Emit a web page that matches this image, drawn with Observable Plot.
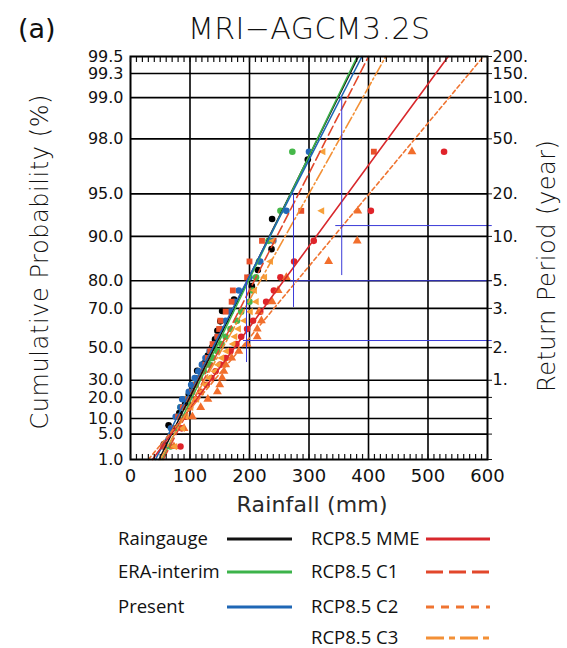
<!DOCTYPE html>
<html>
<head>
<meta charset="utf-8">
<script src="https://cdn.jsdelivr.net/npm/d3@7"></script>
<script src="https://cdn.jsdelivr.net/npm/@observablehq/plot@0.6"></script>
<style>
  body { margin: 0; background: #fff; }
  #wrap { position: relative; width: 567px; height: 648px; overflow: hidden; background: #fff; }
  #chart { position: absolute; left: 0; top: 46px; }
  #overlay { position: absolute; left: 0; top: 0; pointer-events: none; }
</style>
</head>
<body>
<div id="wrap">
  <div id="chart"></div>
  <svg id="overlay" width="567" height="648" font-family="DejaVu Sans" fill="#111">
    <text x="18" y="38" font-size="27" fill="#111">(a)</text>
    <text x="309" y="39" font-size="30" font-weight="200" fill="#111" text-anchor="middle" textLength="242" lengthAdjust="spacing">MRI−AGCM3.2S</text>
    <text transform="translate(48,262) rotate(-90)" font-size="24" font-weight="200" fill="#111" text-anchor="middle" textLength="335" lengthAdjust="spacing">Cumulative Probability (%)</text>
    <text transform="translate(555,266) rotate(-90)" font-size="24" font-weight="200" fill="#111" text-anchor="middle" textLength="252" lengthAdjust="spacing">Return Period (year)</text>
    <text x="312" y="512" font-size="22" font-weight="normal" fill="#2a2a2a" text-anchor="middle" textLength="151" lengthAdjust="spacing">Rainfall (mm)</text>
    <g id="legend" font-family="Open Sans" font-size="18.5"></g>
  </svg>
</div>
<script>
// ---------- data ----------
const gum = p => -Math.log(-Math.log(p / 100));

// left axis: cumulative probability (%) ; right axis: return period (year)
const probTicks  = [1.0, 5.0, 10.0, 20.0, 30.0, 50.0, 70.0, 80.0, 90.0, 95.0, 98.0, 99.0, 99.333, 99.5];
const probLabels = ["1.0","5.0","10.0","20.0","30.0","50.0","70.0","80.0","90.0","95.0","98.0","99.0","99.3","99.5"];
const returnLabels = ["","","","","1.","2.","3.","5.","10.","20.","50.","100.","150.","200."];
const xTicks = [0, 100, 200, 300, 400, 500, 600];
const xGrid = [100, 200, 300, 400, 500];

// plotting probabilities (%) of ranked annual maxima
const pModel = [97.52, 93.39, 89.26, 85.12, 80.99, 76.86, 72.73, 68.60, 64.46, 60.33, 56.20, 52.07,
                47.93, 43.80, 39.67, 35.54, 31.40, 27.27, 23.14, 19.01, 14.88, 10.74, 6.61, 2.48];
const pGauge = [97.17, 92.45, 87.74, 83.02, 78.30, 73.58, 68.87, 64.15, 59.43, 54.72, 50.00,
                45.28, 40.57, 35.85, 31.13, 26.42, 21.70, 16.98, 12.26, 7.55, 2.83];

// rainfall (mm) of each ranked sample
const rainX    = [298, 238, 237, 214, 204, 174, 154, 151, 146, 142, 137, 130, 124, 112, 110, 104, 98, 92, 82, 64, 56];
const eraX     = [272, 252, 232, 216, 211, 205, 200, 186, 179, 168, 160, 153, 146, 138, 133, 123, 115, 107, 103, 96, 84, 80, 72, 67];
const presentX = [300, 262, 240, 218, 200, 182, 175, 168, 160, 152, 146, 140, 133, 126, 120, 114, 108, 102, 98, 87, 84, 76, 68, 56];
const mmeX     = [527, 404, 308, 275, 252, 241, 228, 218, 206, 196, 186, 178, 168, 160, 151, 143, 136, 128, 118, 110, 100, 92, 86, 84];
const c1X      = [409, 287, 221, 200, 196, 172, 170, 160, 151, 149, 146, 138, 134, 130, 126, 122, 117, 110, 104, 97, 88, 80, 73, 55];
const c2X      = [473, 382, 381, 333, 262, 248, 238, 216, 220, 213, 213, 196, 182, 170, 160, 157, 154, 150, 146, 130, 118, 104, 90, 73];
const c3X      = [322, 320, 238, 234, 224, 207, 210, 200, 190, 180, 174, 171, 160, 152, 146, 140, 131, 125, 118, 110, 100, 92, 86, 73];

// fitted Gumbel lines: rainfall (mm) at 1.0 % and at 99.5 %
const fitP       = [1.0, 99.5];
const rainFit    = [48, 383];
const eraFit     = [53, 381];
const presentFit = [42, 389];
const mmeFit     = [37, 534];
const c1Fit      = [55, 400];
const c2Fit      = [30, 593];
const c3Fit      = [50, 429];

// blue guide lines (return level ranges)
const ciX     = [195, 274, 355];
const ciPLow  = [41.0, 70.4, 81.5];
const ciPHigh = [80.0, 95.0, 99.0];
const rlP      = [54.1, 80.0, 91.6];
const rlXStart = [190, 269, 345];
const rlXEnd   = [608, 608, 608];

// ---------- styles ----------
const triLeft = {
  draw(ctx, size) {
    const h = Math.sqrt(size) * 0.62;
    ctx.moveTo(-h, 0); ctx.lineTo(h * 0.9, -h); ctx.lineTo(h * 0.9, h); ctx.closePath();
  }
};
const series = [
  {name: "Raingauge",    x: rainX,    p: pGauge, fit: rainFit,    line: "#111111", dot: "#000000", symbol: "circle",   dash: null},
  {name: "ERA-interim",  x: eraX,     p: pModel, fit: eraFit,     line: "#3cb34a", dot: "#45b849", symbol: "circle",   dash: null},
  {name: "Present",      x: presentX, p: pModel, fit: presentFit, line: "#1f67b5", dot: "#2368b8", symbol: "circle",   dash: null},
  {name: "RCP8.5 MME",   x: mmeX,     p: pModel, fit: mmeFit,     line: "#d8282c", dot: "#e0232a", symbol: "circle",   dash: null},
  {name: "RCP8.5 C1",    x: c1X,      p: pModel, fit: c1Fit,      line: "#e2472b", dot: "#e8502a", symbol: "square",   dash: "10,4"},
  {name: "RCP8.5 C2",    x: c2X,      p: pModel, fit: c2Fit,      line: "#ef7431", dot: "#f26e2c", symbol: "triangle", dash: "4,3"},
  {name: "RCP8.5 C3",    x: c3X,      p: pModel, fit: c3Fit,      line: "#f39036", dot: "#f7a03a", symbol: triLeft,    dash: "12,3,2,3"}
];

const tickRV = probTicks.map(gum);
const leftMap = new Map(tickRV.map((v, i) => [v, probLabels[i]]));
const rightMap = new Map(tickRV.map((v, i) => [v, returnLabels[i]]));
const yDomain = [gum(1.0), gum(99.5)];
const innerRV = tickRV.slice(1, -1);
const minorTicks = d3.range(0, 601, 10);

const marks = [
  Plot.gridX(xGrid, {stroke: "#000", strokeOpacity: 1, strokeWidth: 1.6}),
  Plot.gridY(innerRV, {stroke: "#000", strokeOpacity: 1, strokeWidth: 1.6})
];
for (const s of series) {
  const pts = s.x.map((x, i) => ({x, y: gum(s.p[i])}));
  marks.push(Plot.dot(pts, {x: "x", y: "y", symbol: s.symbol, r: 3.3, fill: s.dot, stroke: "none"}));
}
for (const s of series) {
  const ln = s.fit.map((x, i) => ({x, y: gum(fitP[i])}));
  marks.push(Plot.line(ln, {x: "x", y: "y", stroke: s.line, strokeWidth: 1.6, strokeDasharray: s.dash}));
}
const ciV = ciX.map((x, i) => ({x, y1: gum(ciPLow[i]), y2: gum(ciPHigh[i])}));
const ciH = rlP.map((p, i) => ({x1: rlXStart[i], x2: rlXEnd[i], y: gum(p)}));
marks.push(Plot.ruleX(ciV, {x: "x", y1: "y1", y2: "y2", stroke: "#3a3ad8", strokeWidth: 1}));
marks.push(Plot.ruleY(ciH, {y: "y", x1: "x1", x2: "x2", stroke: "#3a3ad8", strokeWidth: 1}));
marks.push(Plot.frame({stroke: "#000", strokeWidth: 2}));
// minor inward ticks on top and bottom
marks.push(Plot.axisX(minorTicks, {anchor: "bottom", tickSize: 5, dy: -5, tickFormat: () => "", label: null, strokeWidth: 1.2}));
marks.push(Plot.axisX(minorTicks, {anchor: "top", tickSize: 5, dy: 5, tickFormat: () => "", label: null, strokeWidth: 1.2}));
// labelled axes
marks.push(Plot.axisX(xTicks, {anchor: "bottom", tickSize: 0, tickPadding: 10, fontSize: 18, label: null}));
marks.push(Plot.axisY(tickRV, {anchor: "left", tickSize: 0, tickPadding: 7, tickFormat: d => leftMap.get(d), fontSize: 16, label: null}));
marks.push(Plot.axisY(tickRV, {anchor: "right", tickSize: 4, tickPadding: 1, tickFormat: d => rightMap.get(d), fontSize: 16, label: null}));

const chart = Plot.plot({
  width: 567,
  height: 474,
  marginLeft: 130,
  marginRight: 80,
  marginTop: 10,
  marginBottom: 61,
  style: {fontFamily: "DejaVu Sans", color: "#111", background: "transparent", overflow: "visible"},
  x: {domain: [0, 600], axis: null},
  y: {domain: yDomain, axis: null},
  marks
});
document.getElementById("chart").appendChild(chart);

// ---------- legend ----------
const legendRows = [
  {name: "Raingauge",   tx: 118, lx1: 227, lx2: 292, y: 539, s: series[0]},
  {name: "ERA-interim", tx: 118, lx1: 227, lx2: 292, y: 572, s: series[1]},
  {name: "Present",     tx: 118, lx1: 227, lx2: 292, y: 607, s: series[2]},
  {name: "RCP8.5 MME",  tx: 311, lx1: 426, lx2: 490, y: 539, s: series[3]},
  {name: "RCP8.5 C1",   tx: 311, lx1: 426, lx2: 490, y: 572, s: series[4]},
  {name: "RCP8.5 C2",   tx: 311, lx1: 426, lx2: 490, y: 607, s: series[5]},
  {name: "RCP8.5 C3",   tx: 311, lx1: 426, lx2: 490, y: 638, s: series[6]}
];
const legendDash = {"RCP8.5 C1": "17,6", "RCP8.5 C2": "8,7", "RCP8.5 C3": "18,5,6,5"};
const lg = d3.select("#legend");
for (const r of legendRows) {
  lg.append("text").attr("x", r.tx).attr("y", r.y).attr("dy", "0.35em").attr("fill", "#111").text(r.name);
  lg.append("line").attr("x1", r.lx1).attr("x2", r.lx2).attr("y1", r.y).attr("y2", r.y)
    .attr("stroke", r.s.line).attr("stroke-width", 3)
    .attr("stroke-dasharray", legendDash[r.name] || null);
}
</script>
</body>
</html>
